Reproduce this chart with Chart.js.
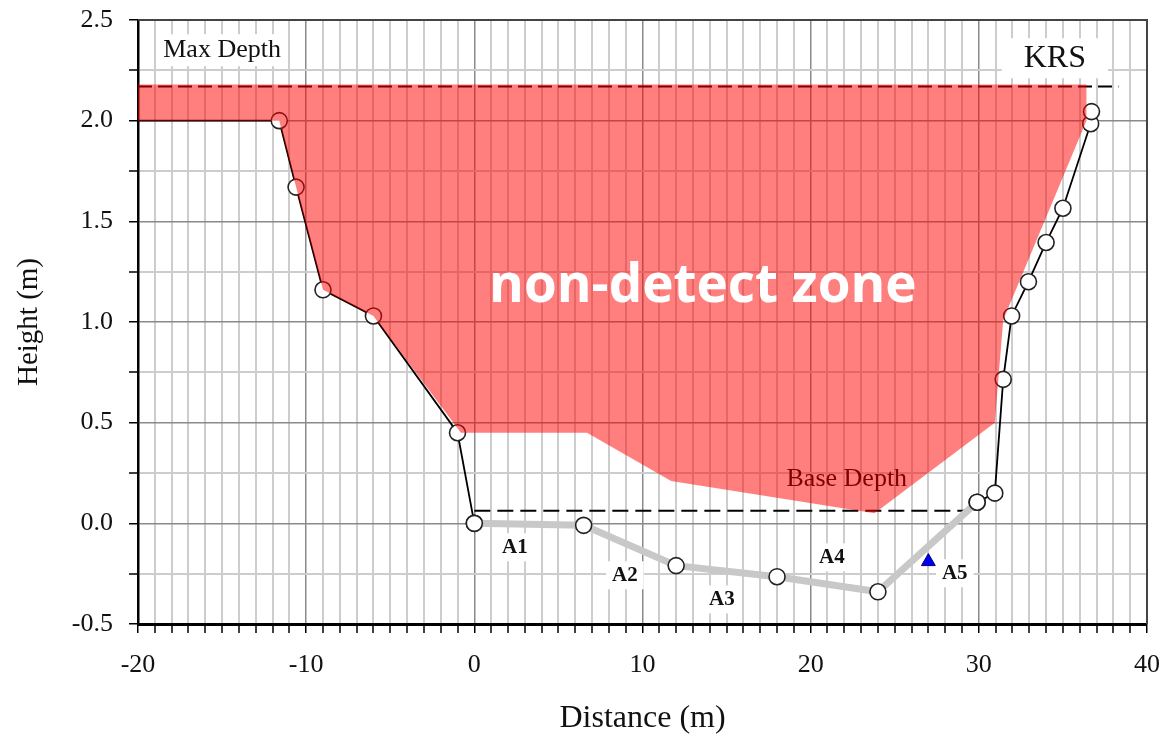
<!DOCTYPE html>
<html>
<head>
<meta charset="utf-8">
<script src="https://cdn.jsdelivr.net/npm/chart.js@4.4.1/dist/chart.umd.min.js"></script>
<style>
  html, body { margin: 0; padding: 0; background: #fff; }
  #wrap { width: 1163px; height: 741px; }
</style>
</head>
<body>
<div id="wrap"><canvas id="chart"></canvas></div>
<script>
// cross-section survey points (distance m, height m)
const leftBankX = [-20, -11.6, -10.6, -9.0, -6.0, -1.0, 0];
const leftBankY = [2.0, 2.0, 1.67, 1.16, 1.03, 0.45, 0.0];
const bedX = [0, 6.5, 12, 18, 24, 29.9];
const bedY = [0.0, -0.01, -0.21, -0.265, -0.34, 0.105];
const rightBankX = [29.9, 30.95, 31.45, 31.95, 32.95, 34.0, 35.0, 36.65, 36.7];
const rightBankY = [0.105, 0.15, 0.715, 1.03, 1.2, 1.395, 1.565, 1.985, 2.045];

// non-detect zone outline
const zoneX = [-20.4, 36.4, 36.4, 31.45, 30.95, 23.8, 11.7, 6.7, -0.8, -6.0, -9.0, -10.6, -11.6, -20.4, -20.4];
const zoneY = [2.18, 2.18, 2.0, 1.01, 0.5, 0.05, 0.21, 0.45, 0.45, 1.03, 1.16, 1.67, 2.0, 2.0, 2.18];

const maxDepthX = [-20, 38.3];
const maxDepthY = [2.17, 2.17];
const baseDepthX = [0, 29.4];
const baseDepthY = [0.062, 0.062];

const sampleX = [27.0];
const sampleY = [-0.19];

const areaLabels = ['A1', 'A2', 'A3', 'A4', 'A5'];
const areaLabelX = [2.41, 8.95, 14.72, 21.26, 28.57];
const areaLabelY = [-0.119, -0.258, -0.378, -0.169, -0.248];

const serif = '"Liberation Serif", "DejaVu Serif", serif';

const toPts = (xs, ys) => xs.map((x, i) => ({ x: x, y: ys[i] }));

function isMult(v, step) {
  const r = v / step;
  return Math.abs(r - Math.round(r)) < 1e-6;
}

function textAt(ctx, text, x, y, font, color, box) {
  ctx.font = font;
  ctx.textAlign = 'center';
  ctx.textBaseline = 'middle';
  if (box) {
    const w = ctx.measureText(text).width;
    ctx.fillStyle = '#fff';
    ctx.fillRect(x - w / 2 - box[0], y - box[1], w + box[0] * 2, box[1] * 2);
  }
  ctx.fillStyle = color;
  ctx.fillText(text, x, y);
}

const annotations = {
  id: 'annotations',
  beforeDatasetsDraw(chart) {
    const { ctx, scales: { x, y } } = chart;
    ctx.save();
    // sits under the red zone
    textAt(ctx, 'Base Depth', x.getPixelForValue(22.15), y.getPixelForValue(0.219),
      '26px ' + serif, '#000');
    ctx.restore();
  },
  afterDatasetsDraw(chart) {
    const { ctx, chartArea, scales: { x, y } } = chart;
    ctx.save();
    areaLabels.forEach((t, i) => {
      textAt(ctx, t, x.getPixelForValue(areaLabelX[i]), y.getPixelForValue(areaLabelY[i]),
        'bold 21px ' + serif, '#111', [6, 14]);
    });
    textAt(ctx, 'Max Depth', x.getPixelForValue(-15.0), y.getPixelForValue(2.35),
      '26px ' + serif, '#111', [4, 16]);
    textAt(ctx, 'KRS', x.getPixelForValue(34.52), y.getPixelForValue(2.31),
      '32px ' + serif, '#111', [22, 20]);
    textAt(ctx, 'non-detect zone', x.getPixelForValue(13.59), y.getPixelForValue(1.172),
      'bold 53px "Open Sans", sans-serif', '#fff');

    // top and right frame
    ctx.strokeStyle = '#444';
    ctx.lineWidth = 2;
    ctx.beginPath();
    ctx.moveTo(chartArea.left, chartArea.top);
    ctx.lineTo(chartArea.right, chartArea.top);
    ctx.lineTo(chartArea.right, chartArea.bottom);
    ctx.stroke();
    ctx.restore();
  }
};

new Chart(document.getElementById('chart'), {
  type: 'scatter',
  data: {
    datasets: [
      {
        label: 'zone',
        data: toPts(zoneX, zoneY),
        showLine: true,
        fill: 'shape',
        backgroundColor: 'rgba(255, 0, 0, 0.5)',
        borderWidth: 0,
        pointRadius: 0,
        clip: false,
        order: 0
      },
      {
        label: 'sample',
        data: toPts(sampleX, sampleY),
        pointStyle: 'triangle',
        pointRadius: 8,
        backgroundColor: '#0000ee',
        borderColor: '#000088',
        borderWidth: 1,
        order: 0
      },
      {
        label: 'bed',
        data: toPts(bedX, bedY),
        showLine: true,
        borderColor: '#c8c8c8',
        borderWidth: 7,
        pointRadius: 8,
        pointBackgroundColor: '#fff',
        pointBorderColor: '#222',
        pointBorderWidth: 1.6,
        order: 2
      },
      {
        label: 'left bank',
        data: toPts(leftBankX, leftBankY),
        showLine: true,
        borderColor: '#000',
        borderWidth: 1.8,
        pointRadius: c => (c.dataIndex === 0 ? 0 : 8),
        pointBackgroundColor: '#fff',
        pointBorderColor: '#222',
        pointBorderWidth: 1.6,
        order: 3
      },
      {
        label: 'right bank',
        data: toPts(rightBankX, rightBankY),
        showLine: true,
        borderColor: '#000',
        borderWidth: 1.8,
        pointRadius: 8,
        pointBackgroundColor: '#fff',
        pointBorderColor: '#222',
        pointBorderWidth: 1.6,
        order: 3
      },
      {
        label: 'max depth',
        data: toPts(maxDepthX, maxDepthY),
        showLine: true,
        borderColor: '#000',
        borderWidth: 2,
        borderDash: [14, 6],
        pointRadius: 0,
        order: 4
      },
      {
        label: 'base depth',
        data: toPts(baseDepthX, baseDepthY),
        showLine: true,
        borderColor: '#000',
        borderWidth: 2,
        borderDash: [16, 7],
        pointRadius: 0,
        order: 4
      }
    ]
  },
  options: {
    responsive: true,
    maintainAspectRatio: false,
    animation: false,
    layout: { padding: { top: 20, right: 16, left: 0, bottom: 0 } },
    plugins: {
      legend: { display: false },
      tooltip: { enabled: false }
    },
    scales: {
      x: {
        type: 'linear',
        min: -20,
        max: 40,
        afterFit: s => {
          s.height = 117;
          s.paddingLeft = 0;
          s.paddingRight = 0;
        },
        ticks: {
          stepSize: 1,
          autoSkip: false,
          maxRotation: 0,
          maxTicksLimit: 100,
          padding: 17,
          color: '#111',
          font: { family: serif, size: 26 },
          callback: v => (isMult(v, 10) ? String(v) : '')
        },
        grid: {
          color: c => (isMult(c.tick.value, 10) ? '#8a8a8a' : '#cdcdcd'),
          lineWidth: c => (isMult(c.tick.value, 10) ? 1.5 : 2),
          drawTicks: true,
          tickLength: 9,
          tickColor: '#000',
          tickWidth: 1.5
        },
        border: { display: true, color: '#000', width: 3 },
        title: {
          display: true,
          text: 'Distance (m)',
          color: '#111',
          font: { family: serif, size: 32 },
          padding: { top: 0, bottom: 3 }
        }
      },
      y: {
        type: 'linear',
        min: -0.5,
        max: 2.5,
        afterFit: s => {
          s.width = 138;
          s.paddingTop = 0;
          s.paddingBottom = 0;
        },
        ticks: {
          stepSize: 0.25,
          autoSkip: false,
          maxTicksLimit: 100,
          padding: 16,
          color: '#111',
          font: { family: serif, size: 26 },
          callback: v => (isMult(v, 0.5) ? v.toFixed(1) : '')
        },
        grid: {
          color: c => (isMult(c.tick.value, 0.5) ? '#8a8a8a' : '#cdcdcd'),
          lineWidth: c => (isMult(c.tick.value, 0.5) ? 1.5 : 2),
          drawTicks: true,
          tickLength: 9,
          tickColor: '#000',
          tickWidth: 1.5
        },
        border: { display: true, color: '#000', width: 2.5 },
        title: {
          display: true,
          text: 'Height (m)',
          color: '#111',
          font: { family: serif, size: 29 },
          padding: { top: 12, bottom: 0 }
        }
      }
    }
  },
  plugins: [annotations]
});
</script>
</body>
</html>
